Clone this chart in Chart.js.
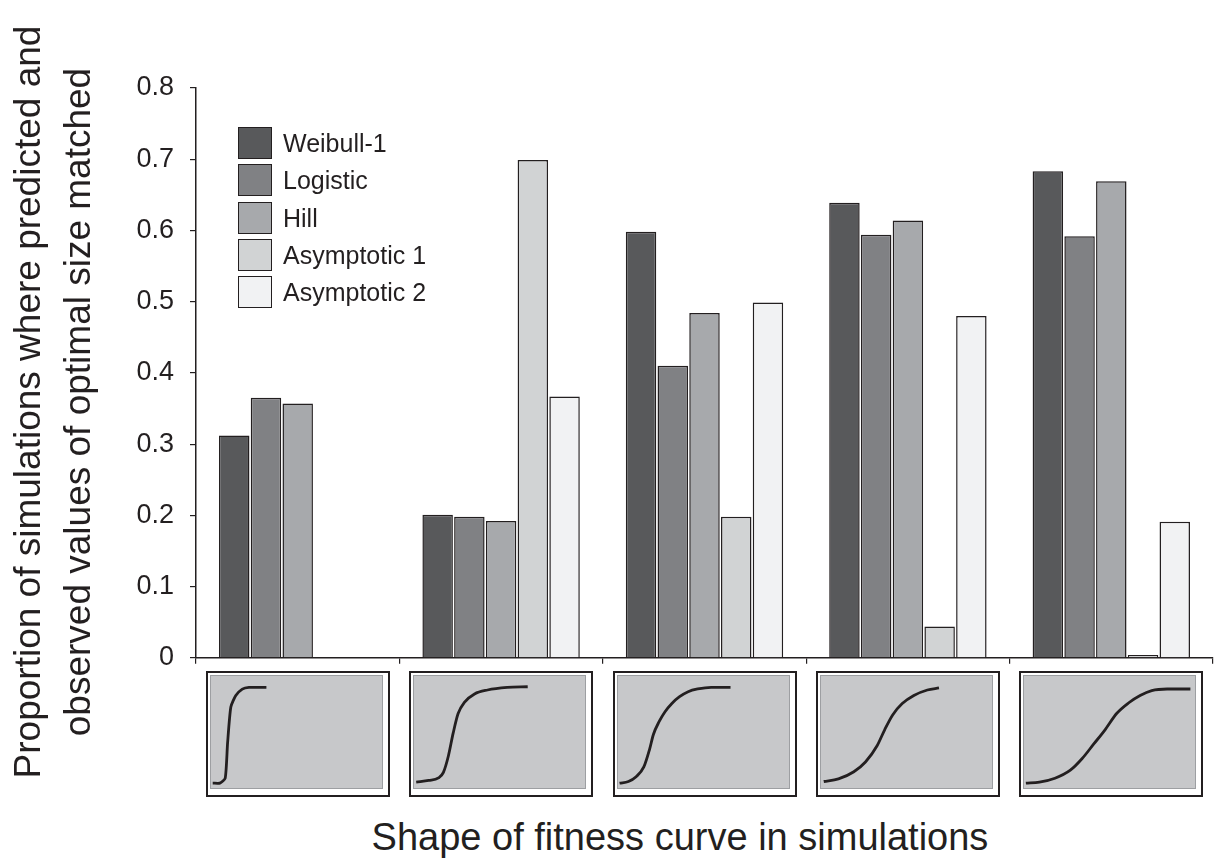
<!DOCTYPE html>
<html>
<head>
<meta charset="utf-8">
<script src="https://cdn.jsdelivr.net/npm/chart.js@4.4.1/dist/chart.umd.min.js"></script>
<style>
  html, body { margin: 0; padding: 0; background: #fff; }
  body { width: 1215px; height: 860px; position: relative; overflow: hidden;
         font-family: "Liberation Sans", Arial, sans-serif; color: #231f20; }
  #main { position: absolute; left: 0; top: 0; width: 1215px; height: 690px; }
  .legend { position: absolute; left: 238px; top: 127px; }
  .legend-row { display: flex; align-items: center; height: 32px; margin-bottom: 5.3px; }
  .legend-box { width: 34px; height: 32px; box-sizing: border-box; border: 1.5px solid #231f20; }
  .legend-text { margin-left: 11px; font-size: 25px; line-height: 32px; }
  .inset { position: absolute; top: 671px; width: 184px; height: 126px; box-sizing: border-box;
           border: 2px solid #231f20; background: #fff; }
  .inset-gray { position: absolute; left: 2px; top: 2px; right: 5px; bottom: 6px;
                border: 1px solid #9d9fa2; background: #c7c8ca; }
  .inset-gray div { position: absolute; left: 0; top: 0; right: 0; bottom: 0; }
  .y-title { position: absolute; width: 820px; height: 100px; left: -357.5px; top: 352px;
             transform: rotate(-90deg); text-align: center; font-size: 37px; line-height: 50px;
             white-space: nowrap; }
  .x-title { position: absolute; left: 280px; width: 800px; top: 818px; text-align: center;
             font-size: 38px; line-height: 38px; white-space: nowrap; }
</style>
</head>
<body>
<div id="main"><canvas id="barChart"></canvas></div>
<div class="legend" id="legend"></div>
<div class="y-title">Proportion of simulations where predicted and<br>observed values of optimal size matched</div>
<div class="x-title">Shape of fitness curve in simulations</div>
<script>
const categories = ["Shape 1", "Shape 2", "Shape 3", "Shape 4", "Shape 5"];
const seriesNames = ["Weibull-1", "Logistic", "Hill", "Asymptotic 1", "Asymptotic 2"];
const seriesColors = ["#58595b", "#808184", "#a7a9ac", "#d1d3d4", "#f1f2f3"];

const weibull1 = [0.312, 0.201, 0.598, 0.639, 0.683];
const logistic = [0.365, 0.198, 0.410, 0.594, 0.592];
const hill = [0.357, 0.192, 0.484, 0.614, 0.669];
const asymptotic1 = [null, 0.699, 0.198, 0.044, 0.004];
const asymptotic2 = [null, 0.367, 0.499, 0.480, 0.191];

const yTicks = [0, 0.1, 0.2, 0.3, 0.4, 0.5, 0.6, 0.7, 0.8];

// little fitness-curve sketches under each group, x and y in 0..100 of the grey box
const shapeCurve1 = [[1, 4.4], [5.2, 4.4], [8.3, 8.7], [9.7, 40.2], [11.6, 72.3], [14.5, 82.5], [18.3, 88.3], [22.2, 89.8], [32.4, 89.8]];
const shapeCurve2 = [[1.3, 5.2], [8.6, 6.7], [14.3, 9.0], [17.2, 14.0], [20.1, 28.6], [22.9, 49.0], [25.8, 66.5], [29.6, 76.7], [35.4, 84.0], [43.0, 87.5], [54.5, 89.8], [66.5, 90.4]];
const shapeCurve3 = [[0.9, 4.3], [6.1, 5.8], [10.6, 10.1], [15.1, 18.8], [18.5, 34.8], [20.7, 47.8], [24.1, 59.4], [27.5, 68.1], [31.5, 75.5], [36.0, 81.5], [41.0, 86.0], [46.6, 88.4], [54.5, 89.9], [65.8, 89.9]];
const shapeCurve4 = [[1.6, 5.8], [10.2, 8.1], [19.2, 14.5], [26.0, 23.2], [32.8, 37.7], [37.3, 52.2], [41.9, 65.2], [47.5, 75.4], [54.3, 82.6], [62.2, 87.5], [69.0, 89.3]];
const shapeCurve5 = [[1.1, 4.3], [9.0, 5.2], [18.1, 8.7], [27.1, 15.9], [33.9, 26.1], [40.7, 39.1], [47.5, 52.2], [54.3, 66.7], [61.1, 75.9], [67.9, 82.6], [74.7, 87.0], [83.7, 88.4], [97.3, 88.4]];

const shapeCurves = [shapeCurve1, shapeCurve2, shapeCurve3, shapeCurve4, shapeCurve5];
const seriesValues = [weibull1, logistic, hill, asymptotic1, asymptotic2];

const ink = "#231f20";
const fontFamily = '"Liberation Sans", Arial, sans-serif';

function buildBarChart() {
  const ctx = document.getElementById("barChart").getContext("2d");
  return new Chart(ctx, {
    type: "bar",
    data: {
      labels: categories,
      datasets: seriesNames.map((name, i) => ({
        label: name,
        data: seriesValues[i],
        backgroundColor: seriesColors[i],
        borderColor: ink,
        borderWidth: 1.5,
        categoryPercentage: 0.78,
        barPercentage: 0.96,
      })),
    },
    options: {
      responsive: true,
      maintainAspectRatio: false,
      animation: false,
      layout: { padding: { top: 88, right: 2, bottom: 0, left: 0 } },
      plugins: { legend: { display: false }, tooltip: { enabled: false } },
      scales: {
        x: {
          type: "category",
          offset: true,
          grid: { offset: true, drawOnChartArea: false, tickLength: 6, color: ink, lineWidth: 1.2 },
          border: { color: ink, width: 1.5 },
          ticks: { display: false },
          afterFit: (scale) => { scale.height = 22; },
        },
        y: {
          min: 0,
          max: 0.8,
          afterBuildTicks: (scale) => { scale.ticks = yTicks.map((v) => ({ value: v })); },
          grid: { drawOnChartArea: false, tickLength: 6, color: ink, lineWidth: 1.2 },
          border: { color: ink, width: 1.5 },
          ticks: {
            color: ink,
            padding: 16,
            font: { family: fontFamily, size: 27 },
            callback: (v) => (v === 0 ? "0" : Number(v).toFixed(1)),
          },
          afterFit: (scale) => { scale.width = 196; },
        },
      },
    },
  });
}

function renderLegend(chart) {
  const box = document.getElementById("legend");
  box.innerHTML = chart.data.datasets
    .map(
      (ds) => `
      <div class="legend-row">
        <div class="legend-box" style="background:${ds.backgroundColor}"></div>
        <div class="legend-text">${ds.label}</div>
      </div>`
    )
    .join("");
}

function renderInsets(chart) {
  const xScale = chart.scales.x;
  shapeCurves.forEach((curve, i) => {
    const cx = xScale.getPixelForValue(i);
    const inset = document.createElement("div");
    inset.className = "inset";
    inset.style.left = `${cx - 92}px`;
    inset.innerHTML = `<div class="inset-gray"><div><canvas></canvas></div></div>`;
    document.body.appendChild(inset);
    const ctx = inset.querySelector("canvas").getContext("2d");
    new Chart(ctx, {
      type: "line",
      data: {
        datasets: [
          {
            data: curve.map(([x, y]) => ({ x, y })),
            borderColor: ink,
            borderWidth: 2.8,
            pointRadius: 0,
            cubicInterpolationMode: i === 0 ? "default" : "monotone",
            tension: i === 0 ? 0.2 : 0,
            clip: false,
          },
        ],
      },
      options: {
        responsive: true,
        maintainAspectRatio: false,
        animation: false,
        layout: { padding: 0 },
        plugins: { legend: { display: false }, tooltip: { enabled: false } },
        scales: {
          x: { type: "linear", min: 0, max: 100, display: false },
          y: { type: "linear", min: 0, max: 100, display: false },
        },
      },
    });
  });
}

const barChart = buildBarChart();
renderLegend(barChart);
renderInsets(barChart);
</script>
</body>
</html>
